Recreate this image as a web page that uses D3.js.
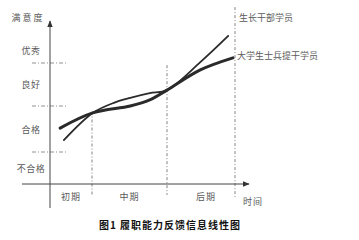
<!DOCTYPE html>
<html>
<head>
<meta charset="utf-8">
<script src="https://cdn.jsdelivr.net/npm/d3@7"></script>
<style>
  body { margin: 0; background: #fff; }
  svg { display: block; }
</style>
</head>
<body>
<svg id="chart"></svg>
<script>
// phases along the time axis, satisfaction levels on the vertical axis
const phases = ["初期", "中期", "后期"];
const levels = ["不合格", "合格", "良好", "优秀"];
const seriesNames = ["生长干部学员", "大学生士兵提干学员"];

// curve points, x in phase units (0..3), y in level units (0..4)
const cadreX = [0.33, 1.01, 1.3, 1.51, 1.77, 2.0, 2.49, 2.9];
const cadreY = [1.26, 1.85, 2.08, 2.19, 2.3, 2.37, 3.02, 3.63];
const soldierX = [0.24, 1.01, 1.51, 1.77, 2.0, 2.49, 2.97];
const soldierY = [1.52, 1.85, 2.0, 2.14, 2.37, 2.84, 3.12];

const width = 359, height = 240;
const svg = d3.select("#chart").attr("width", width).attr("height", height);

const x = d3.scaleLinear().domain([0, 1, 2, 3]).range([50, 92, 167, 235]);
const y = d3.scaleLinear().domain([0, 1, 2, 3, 4]).range([184, 152, 106, 63, 20]);

const font = "'Noto Sans CJK SC', sans-serif";
const grey = "#5a5a5a";

svg.append("defs").append("marker")
    .attr("id", "arrow")
    .attr("viewBox", "0 0 10 10")
    .attr("refX", 9).attr("refY", 5)
    .attr("markerWidth", 7).attr("markerHeight", 7)
    .attr("orient", "auto")
    .append("path")
    .attr("d", "M0,1 L10,5 L0,9 Z")
    .attr("fill", "#333");

// level separators (dash-dot)
svg.selectAll(".lvl")
    .data([1, 2, 3])
    .enter().append("line")
    .attr("x1", 32).attr("x2", 66)
    .attr("y1", d => y(d)).attr("y2", d => y(d))
    .attr("stroke", "#777").attr("stroke-width", 0.8)
    .attr("stroke-dasharray", "4,2,1,2");

// phase separators
const vTop = [1.88, 2.95, 4.3];
svg.selectAll(".ph")
    .data([1, 2, 3])
    .enter().append("line")
    .attr("x1", d => x(d)).attr("x2", d => x(d))
    .attr("y1", (d, i) => y(vTop[i])).attr("y2", d => d === 3 ? 197 : 195)
    .attr("stroke", "#666").attr("stroke-width", 0.8)
    .attr("stroke-dasharray", "3,2,1,2");

// axes
svg.append("line")
    .attr("x1", x(0)).attr("x2", x(0)).attr("y1", 208).attr("y2", 21)
    .attr("stroke", "#444").attr("stroke-width", 1)
    .attr("marker-end", "url(#arrow)");
svg.append("line")
    .attr("x1", 22).attr("x2", 249).attr("y1", y(0)).attr("y2", y(0))
    .attr("stroke", "#444").attr("stroke-width", 1)
    .attr("marker-end", "url(#arrow)");

// curves
const line = d3.line()
    .x(d => x(d[0]))
    .y(d => y(d[1]))
    .curve(d3.curveCatmullRom.alpha(0.5));

svg.append("path")
    .datum(d3.zip(soldierX, soldierY))
    .attr("fill", "none").attr("stroke", "#2a2a2a")
    .attr("stroke-width", 3).attr("stroke-linecap", "round")
    .attr("d", line);

svg.append("path")
    .datum(d3.zip(cadreX, cadreY))
    .attr("fill", "none").attr("stroke", "#2a2a2a")
    .attr("stroke-width", 1.8).attr("stroke-linecap", "round")
    .attr("d", line);

// texts
const txt = (tx, ty, s, anchor = "middle", spacing = 0) => svg.append("text")
    .attr("x", tx).attr("y", ty)
    .attr("text-anchor", anchor)
    .attr("dominant-baseline", "central")
    .attr("font-family", font)
    .attr("font-size", 9)
    .attr("letter-spacing", spacing)
    .attr("fill", grey)
    .text(s);

txt(28, 17, "满意度", "middle", 2);
levels.forEach((l, i) => txt(31, y(i < 3 ? i + 0.5 : i + 0.3), l, "middle", 0.5));
phases.forEach((p, i) => txt(x(i + 0.5) + (i === 2 ? 5 : 0), 196, p, "middle", 1));
txt(243, 201, "时间", "start", 1);
txt(239, 17, seriesNames[0], "start");
txt(237, 55, seriesNames[1], "start");

svg.append("text")
    .attr("x", 170).attr("y", 224)
    .attr("text-anchor", "middle")
    .attr("dominant-baseline", "central")
    .attr("font-family", font)
    .attr("font-size", 10)
    .attr("font-weight", "bold")
    .attr("letter-spacing", 1)
    .attr("fill", "#111")
    .text("图1 履职能力反馈信息线性图");
</script>
</body>
</html>
